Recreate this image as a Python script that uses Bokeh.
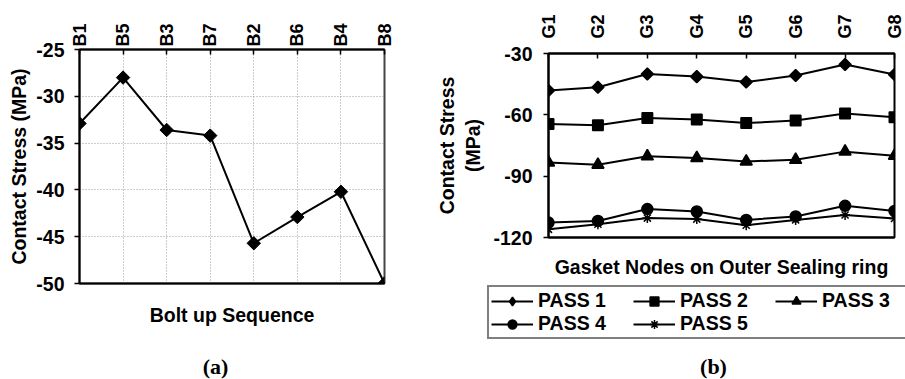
import numpy as np
from bokeh.plotting import figure
from bokeh.models import Range1d, FixedTicker, LinearAxis, Legend, LegendItem, Label
from bokeh.layouts import row, column
from bokeh.embed import file_html
from bokeh.resources import INLINE

# ---------------- data ----------------
bolts = ["B1", "B5", "B3", "B7", "B2", "B6", "B4", "B8"]
stress_a = [-32.9, -28.0, -33.6, -34.2, -45.7, -42.9, -40.2, -50.0]
yticks_a = [-50, -45, -40, -35, -30, -25]

nodes = ["G1", "G2", "G3", "G4", "G5", "G6", "G7", "G8"]
pass1 = [-48.1, -46.5, -40.0, -41.3, -43.9, -40.8, -35.4, -40.3]
pass2 = [-64.5, -65.1, -61.5, -62.3, -64.0, -62.8, -59.3, -61.2]
pass3 = [-83.3, -84.4, -80.3, -81.1, -82.8, -82.0, -78.0, -80.0]
pass4 = [-112.7, -111.9, -106.1, -107.3, -111.4, -109.7, -104.5, -107.0]
pass5 = [-116.0, -113.5, -110.5, -111.0, -114.0, -111.4, -109.0, -110.7]
yticks_b = [-120, -90, -60, -30]
pass_names = ["PASS 1", "PASS 2", "PASS 3", "PASS 4", "PASS 5"]

FONT = "Liberation Sans"
FS = "19.5px"
TOPFS = "18px"
COMMON = dict(output_backend="svg", toolbar_location=None, frame_align=False)


def style_axes(p, top_standoff, left_standoff, yticks):
    top = p.xaxis[0]
    top.axis_line_width = 2
    top.axis_line_color = "black"
    top.major_tick_in = 5
    top.major_tick_out = 0
    top.major_tick_line_width = 1.5
    top.minor_tick_line_color = None
    top.major_label_orientation = np.pi / 2
    top.major_label_text_font = FONT
    top.major_label_text_font_style = "bold"
    top.major_label_text_font_size = TOPFS
    top.major_label_text_color = "black"
    top.major_label_standoff = top_standoff

    left = p.yaxis[0]
    left.ticker = FixedTicker(ticks=yticks)
    left.major_label_overrides = {t: str(t) for t in yticks}
    left.axis_line_width = 2
    left.axis_line_color = "black"
    left.major_tick_in = 0
    left.major_tick_out = 5
    left.major_tick_line_width = 1.5
    left.minor_tick_line_color = None
    left.major_label_text_font = FONT
    left.major_label_text_font_style = "bold"
    left.major_label_text_font_size = FS
    left.major_label_text_color = "black"
    left.major_label_standoff = left_standoff
    left.axis_label_text_font = FONT
    left.axis_label_text_font_style = "bold"
    left.axis_label_text_font_size = FS
    left.axis_label_text_color = "black"


def bottom_title(p, text, standoff):
    ax = LinearAxis(ticker=FixedTicker(ticks=[]), axis_label=text,
                    axis_line_width=2, axis_line_color="black",
                    major_tick_line_color=None, minor_tick_line_color=None,
                    major_label_text_color=None,
                    axis_label_standoff=standoff,
                    axis_label_text_font=FONT, axis_label_text_font_style="bold",
                    axis_label_text_font_size=FS, axis_label_text_color="black")
    p.add_layout(ax, "below")


def blank(p):
    p.outline_line_color = None
    p.grid.grid_line_color = None


def caption_label(x, y, text):
    return Label(x=x, y=y, text=text, text_align="center", text_baseline="middle",
                 text_font="Liberation Serif", text_font_style="bold",
                 text_font_size="22px", text_color="black")


# ---------------- figure (a) ----------------
xa = list(range(len(bolts)))
pa = figure(width=430, height=330, x_range=Range1d(0, len(bolts) - 1),
            y_range=Range1d(yticks_a[0], yticks_a[-1]), x_axis_location="above",
            min_border_left=79, min_border_right=46, min_border_top=49, min_border_bottom=47,
            **COMMON)
pa.xaxis.ticker = FixedTicker(ticks=xa)
pa.xaxis.major_label_overrides = {i: b for i, b in enumerate(bolts)}
pa.yaxis.axis_label = "Contact Stress (MPa)"
style_axes(pa, 3, 10, yticks_a)
pa.yaxis.axis_label_standoff = 3
pa.grid.grid_line_color = "#9a9a9a"
pa.grid.grid_line_dash = "1 2"
pa.grid.grid_line_width = 1
pa.outline_line_color = "#444444"
pa.outline_line_width = 2
bottom_title(pa, "Bolt up Sequence", 20)

pa.line(xa, stress_a, line_color="black", line_width=2)
pa.scatter(xa, stress_a, marker="square", angle=np.pi / 4, size=9.5,
           fill_color="black", line_color="black")

# caption strip under (a)
ca = figure(width=430, height=49, x_range=Range1d(0, 430), y_range=Range1d(0, 49),
            x_axis_location=None, y_axis_location=None,
            min_border_left=0, min_border_right=0, min_border_top=0, min_border_bottom=0,
            **COMMON)
blank(ca)
ca.add_layout(caption_label(215, 13, "(a)"))

# ---------------- figure (b) ----------------
xb = list(range(len(nodes)))
pb = figure(width=475, height=285, x_range=Range1d(0, len(nodes) - 1),
            y_range=Range1d(yticks_b[0], yticks_b[-1]), x_axis_location="above",
            min_border_left=118, min_border_right=11, min_border_top=53, min_border_bottom=48,
            **COMMON)
pb.xaxis.ticker = FixedTicker(ticks=xb)
pb.xaxis.major_label_overrides = {i: g for i, g in enumerate(nodes)}
pb.yaxis.axis_label = "Contact Stress\n(MPa)"
style_axes(pb, 15, 11, yticks_b)
pb.yaxis.axis_label_standoff = 6
pb.grid.grid_line_color = None
pb.outline_line_color = "black"
pb.outline_line_width = 2
bottom_title(pb, "Gasket Nodes on Outer Sealing ring", 18)

series = [pass1, pass2, pass3, pass4, pass5]
markers = [("square", np.pi / 4, 8.5), ("square", 0, 10.5), ("triangle", 0, 12),
           ("circle", 0, 11), ("asterisk", 0, 10)]
for ys, (mk, ang, sz) in zip(series, markers):
    pb.line(xb, ys, line_color="black", line_width=2)
    pb.scatter(xb, ys, marker=mk, angle=ang, size=sz,
               fill_color="black", line_color="black", line_width=1.5)

# legend + caption strip under (b): the same series are drawn here outside the
# visible range, so that only their legend entries show
legend_markers = ["diamond", "square", "triangle", "circle", "asterisk"]
lg = figure(width=475, height=94, x_range=Range1d(0, 418), y_range=Range1d(0, 94),
            x_axis_location=None, y_axis_location=None,
            min_border_left=57, min_border_right=0, min_border_top=0, min_border_bottom=0,
            **COMMON)
blank(lg)
items = []
for name, ys, mk in zip(pass_names, series, legend_markers):
    lr = lg.line(xb, ys, line_color="black", line_width=2)
    sr = lg.scatter(xb, ys, marker=mk, size=10,
                    fill_color="black", line_color="black", line_width=1.5)
    items.append(LegendItem(label=name, renderers=[lr, sr]))

legend = Legend(items=items, location="top_left", orientation="horizontal", ncols=3,
                label_text_font=FONT, label_text_font_style="bold",
                label_text_font_size=FS, label_text_color="black",
                label_text_line_height=0.85,
                glyph_width=42, glyph_height=22, label_height=16, label_width=95,
                label_standoff=5, spacing=0, padding=2, margin=0,
                border_line_color="black", border_line_width=2,
                background_fill_color="white", background_fill_alpha=1)
lg.add_layout(legend, "center")
lg.add_layout(caption_label(226, 13, "(b)"))

layout = row(column(pa, ca), column(pb, lg))

open("out.html", "w").write(file_html(layout, INLINE))
